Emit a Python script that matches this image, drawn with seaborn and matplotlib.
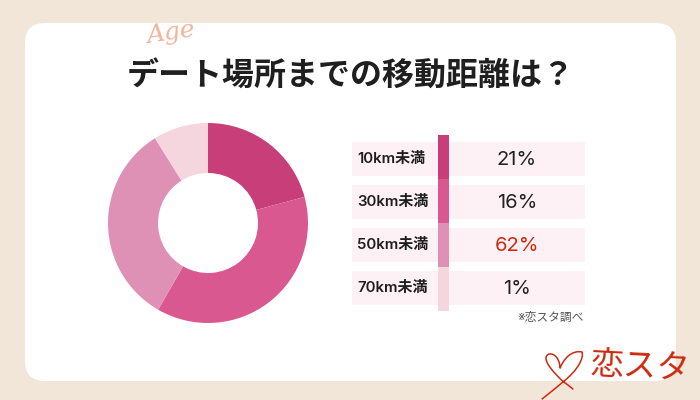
import numpy as np
import matplotlib
matplotlib.use("Agg")
import matplotlib.pyplot as plt
from matplotlib.patches import FancyBboxPatch, Rectangle
from matplotlib.path import Path
from matplotlib.patches import PathPatch
import seaborn as sns

TITLE = "デート場所までの移動距離は？"
categories = ["10km未満", "30km未満", "50km未満", "70km未満"]
table_values = ["21%", "16%", "62%", "1%"]
donut_values = [20.8, 37.5, 32.8, 8.9]
colors = ["#c83e79", "#d8588f", "#de90b5", "#f6d6de"]
value_colors = ["#222222", "#222222", "#cc2a10", "#222222"]
NOTE = "※恋スタ調べ"
strip_values = [1, 1, 1, 1]

sns.set_theme(style="white")
plt.rcParams["font.family"] = ["Inter", "Noto Sans CJK JP", "DejaVu Sans"]

fig = plt.figure(figsize=(7, 4), dpi=100, facecolor="#f1e6d8")
bg = fig.add_axes([0, 0, 1, 1])
bg.set_xlim(0, 700)
bg.set_ylim(400, 0)
bg.axis("off")

bg.add_patch(FancyBboxPatch((45, 43), 611, 318, boxstyle="round,pad=20,rounding_size=20",
                            fc="white", ec="none", zorder=1))

bg.text(351, 76, TITLE, ha="center", va="center", fontsize=23, fontweight="bold",
        family=["Noto Sans CJK JP"], color="#1f1f1f", zorder=3)

# handwritten decorations
bg.text(171, 33, "Age", ha="center", va="center", fontsize=18, style="italic",
        family="DejaVu Serif", color="#f2b39c", zorder=4, rotation=8)
bg.text(640, 367, "恋スタ", ha="center", va="center", fontsize=24, color="#cc2a10", zorder=4,
        family=["Noto Sans CJK JP"], rotation=-3)
verts = [(541.7, 399.3), (556, 388), (563.3, 381.7),
         (553, 372), (540, 358), (549, 354), (556, 353), (560, 361), (560, 368.3),
         (564, 358), (572, 350), (582, 352), (584, 358), (578, 370), (563.3, 381.7),
         (567, 384), (573.3, 389.3)]
codes = [Path.MOVETO, Path.CURVE3, Path.CURVE3,
         Path.CURVE4, Path.CURVE4, Path.CURVE4, Path.CURVE4, Path.CURVE4, Path.CURVE4,
         Path.CURVE4, Path.CURVE4, Path.CURVE4, Path.CURVE4, Path.CURVE4, Path.CURVE4,
         Path.CURVE3, Path.CURVE3]
bg.add_patch(PathPatch(Path(verts, codes), fc="none", ec="#cc2a10", lw=1.1, zorder=4))

# table rows
row_tops = [142, 185, 228, 271]
for top, cat, val, vc in zip(row_tops, categories, table_values, value_colors):
    bg.add_patch(Rectangle((352, top), 233, 34, fc="#fdf1f5", ec="none", zorder=2))
    bg.text(357, top + 17, cat, ha="left", va="center", fontsize=10.8, fontweight="semibold",
            color="#1f1f1f", zorder=3)
    bg.text(517, top + 18, val, ha="center", va="center", fontsize=14.5, color=vc, zorder=3)
bg.text(584, 318, NOTE, ha="right", va="center", fontsize=8.5, color="#555555", zorder=3)

# stacked colour strip
strip = fig.add_axes([438 / 700, 1 - 311 / 400, 11 / 700, 176 / 400], zorder=5)
bottoms = np.cumsum([0] + strip_values[:-1])
for value, base, colour in zip(strip_values, bottoms, colors):
    sns.barplot(x=[0], y=[value], bottom=base, color=colour, width=1, ax=strip,
                saturation=1, linewidth=0)
strip.set_xlim(-0.5, 0.5)
strip.set_ylim(4, 0)
strip.axis("off")

# donut
R = 100
ax = fig.add_axes([(208 - R) / 700, 1 - (223 + R) / 400, 2 * R / 700, 2 * R / 400], zorder=5)
ax.pie(donut_values, colors=colors, startangle=90, counterclock=False, radius=1,
       wedgeprops=dict(width=0.5, linewidth=0))
ax.set_xlim(-1, 1)
ax.set_ylim(-1, 1)
ax.set_aspect("equal")
ax.patch.set_alpha(0)

fig.savefig("out.png", dpi=100, facecolor=fig.get_facecolor())
